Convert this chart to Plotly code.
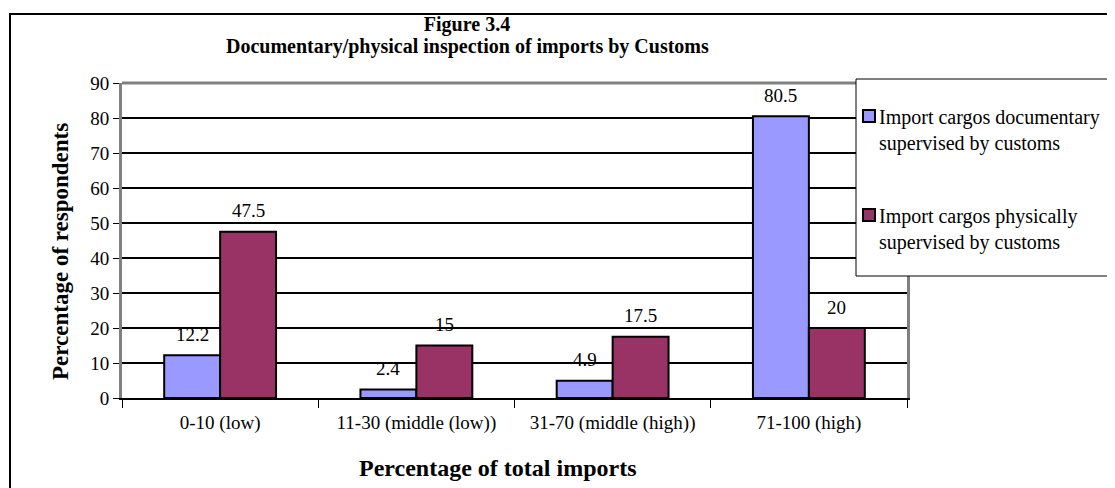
import plotly.graph_objects as go

categories = ["0-10 (low)", "11-30 (middle (low))", "31-70 (middle (high))", "71-100 (high)"]
documentary = [12.2, 2.4, 4.9, 80.5]
physical = [47.5, 15, 17.5, 20]
series_names = [
    "Import cargos documentary<br>supervised by customs",
    "Import cargos physically<br>supervised by customs",
]
colors = ["#9999FF", "#993366"]
y_ticks = list(range(0, 100, 10))

# page body has an 8px margin, so the figure starts at (8, 8) on screen
OFF = 8
W, H = 1115 - OFF, 488 - OFF
L, R, T, B = 122, 907, 83, 398  # plot area in screen pixels
FONT = "Liberation Serif, Times New Roman, serif"


def px(x):
    return (x - L) / (R - L)


def py(y):
    return (B - y) / (B - T)


fig = go.Figure()
for vals, name, color in zip([documentary, physical], series_names, colors):
    fig.add_trace(
        go.Bar(
            x=categories,
            y=vals,
            name=name,
            marker=dict(color=color, line=dict(color="black", width=2)),
            showlegend=False,
        )
    )

# value labels above the bars
annotations = []
for vals, shift in [(documentary, -28), (physical, 28)]:
    for cat, v in zip(categories, vals):
        annotations.append(
            dict(
                x=cat, y=v, xref="x", yref="y", text=f"{v:g}", showarrow=False,
                xshift=shift, yshift=21, xanchor="center", yanchor="middle",
                font=dict(family=FONT, size=19, color="black"),
            )
        )

# second title line
annotations.append(
    dict(x=px(467), y=py(47), xref="paper", yref="paper",
         text="<b>Documentary/physical inspection of imports by Customs</b>",
         showarrow=False, xanchor="center", yanchor="middle",
         font=dict(family=FONT, size=20, color="black"))
)

# axis titles
annotations.append(
    dict(x=px(497), y=py(468), xref="paper", yref="paper", text="<b>Percentage of total imports</b>",
         showarrow=False, xanchor="center", yanchor="middle",
         font=dict(family=FONT, size=24, color="black"))
)
annotations.append(
    dict(x=px(60), y=py(252), xref="paper", yref="paper", text="<b>Percentage of respondents</b>",
         showarrow=False, textangle=-90, xanchor="center", yanchor="middle",
         font=dict(family=FONT, size=23, color="black"))
)

# manual legend
legend_items = [(series_names[0], colors[0], 116), (series_names[1], colors[1], 215)]
shapes = [
    # outer chart border
    dict(type="rect", xref="paper", yref="paper", x0=px(10), x1=px(1130), y0=py(500), y1=py(14),
         line=dict(color="black", width=2), layer="below"),
    # gray top frame of plot area
    dict(type="line", xref="paper", yref="paper", x0=0, x1=1, y0=1, y1=1,
         line=dict(color="#808080", width=3)),
    # legend box
    dict(type="rect", xref="paper", yref="paper", x0=px(856), x1=px(1130), y0=py(276), y1=py(79),
         line=dict(color="black", width=1), fillcolor="white", layer="above"),
]
for name, color, yc in legend_items:
    shapes.append(
        dict(type="rect", xref="paper", yref="paper", x0=px(863), x1=px(875), y0=py(yc + 6), y1=py(yc - 6),
             line=dict(color="black", width=2), fillcolor=color, layer="above")
    )
    annotations.append(
        dict(x=px(877), y=py(yc - 12), xref="paper", yref="paper", text=name, showarrow=False,
             xanchor="left", yanchor="top", align="left",
             font=dict(family=FONT, size=20, color="black"))
    )

fig.update_layout(
    width=W,
    height=H,
    margin=dict(l=L - OFF, r=W + OFF - R, t=T - OFF, b=H + OFF - B, pad=0),
    autosize=False,
    paper_bgcolor="white",
    plot_bgcolor="white",
    barmode="group",
    bargap=0.43,
    bargroupgap=0,
    title=dict(
        text="<b>Figure 3.4</b>",
        x=px(467), xref="paper", xanchor="center",
        y=1 - (24 - OFF) / H, yref="container", yanchor="middle",
        font=dict(family=FONT, size=20, color="black"),
    ),
    font=dict(family=FONT, color="black"),
    annotations=annotations,
    shapes=shapes,
)
fig.update_xaxes(
    type="category",
    showline=True, linecolor="black", linewidth=2,
    ticks="outside", tickson="boundaries", ticklen=8, tickcolor="black", tickwidth=1,
    tickfont=dict(family=FONT, size=19, color="black"),
    ticklabelstandoff=6,
    showgrid=False,
)
fig.update_yaxes(
    range=[0, 90], tickvals=y_ticks, showline=True, mirror=True, linecolor="#808080", linewidth=3,
    ticks="outside", ticklen=6, tickcolor="black", tickwidth=1,
    tickfont=dict(family=FONT, size=19, color="black"),
    showgrid=True, gridcolor="black", gridwidth=1.5, zeroline=False,
)

fig.write_html("out.html")
